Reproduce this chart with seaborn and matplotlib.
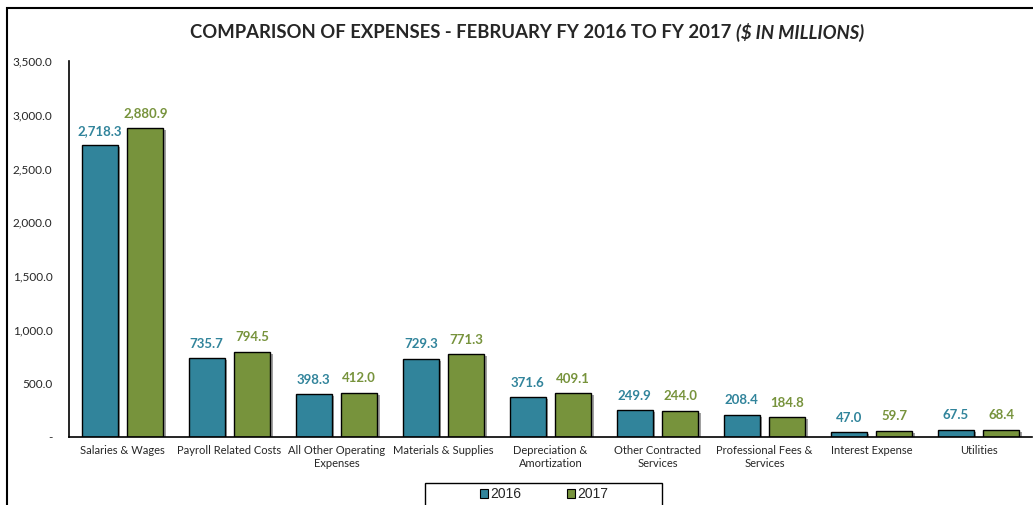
import pandas as pd
import matplotlib.pyplot as plt
import matplotlib.patheffects as pe
from matplotlib.patches import Rectangle
import seaborn as sns

# chart data
categories = ["Salaries & Wages", "Payroll Related Costs", "All Other Operating\nExpenses",
              "Materials & Supplies", "Depreciation &\nAmortization", "Other Contracted\nServices",
              "Professional Fees &\nServices", "Interest Expense", "Utilities"]
fy2016 = [2718.3, 735.7, 398.3, 729.3, 371.6, 249.9, 208.4, 47.0, 67.5]
fy2017 = [2880.9, 794.5, 412.0, 771.3, 409.1, 244.0, 184.8, 59.7, 68.4]
years = ["2016", "2017"]
colors = ["#31849B", "#77933C"]

df = pd.DataFrame({
    "category": categories * 2,
    "year": [years[0]] * len(categories) + [years[1]] * len(categories),
    "value": fy2016 + fy2017,
})

sns.set_style("white")
plt.rcParams['font.family'] = ['Lato', 'DejaVu Sans']

fig = plt.figure(figsize=(10.33, 5.05), dpi=100)
ax = fig.add_axes([69 / 1033, 1 - 437 / 505, 963 / 1033, 376 / 505])

sns.barplot(data=df, x="category", y="value", hue="year", palette=colors, saturation=1,
            width=0.85, gap=0.2, edgecolor="black", linewidth=1.0,
            order=categories, hue_order=years, ax=ax, legend=False)

for bar_group, col in zip(ax.containers, colors):
    for bar in bar_group:
        bar.set_path_effects([pe.SimplePatchShadow(offset=(1.5, -1.5), shadow_rgbFace="#888888", alpha=0.8),
                              pe.Normal()])
    ax.bar_label(bar_group, labels=[f"{v.get_height():,.1f}" for v in bar_group],
                 padding=6, color=col, fontsize=9.5, fontweight="bold")

ax.set_ylim(0, 3500)
ax.set_xlim(-0.5, 8.5)
ticks = [0, 500, 1000, 1500, 2000, 2500, 3000, 3500]
ax.set_yticks(ticks)
ax.set_yticklabels(["-"] + [f"{t:,.1f}" for t in ticks[1:]], fontsize=8.5)
ax.tick_params(axis="x", labelsize=8, length=0, pad=6)
ax.tick_params(axis="y", length=0, pad=12)
ax.set_xlabel("")
ax.set_ylabel("")
for s in ["top", "right"]:
    ax.spines[s].set_visible(False)
for s in ["left", "bottom"]:
    ax.spines[s].set_color("black")
    ax.spines[s].set_linewidth(1.2)

# title: bold part + bold italic part, centred together
ty = 1 - 32 / 505
t1 = fig.text(0, ty, "COMPARISON OF EXPENSES - FEBRUARY FY 2016 TO FY 2017 ",
              ha="left", va="center", fontsize=13.3, fontweight="bold")
t2 = fig.text(0, ty, "($ IN MILLIONS)", ha="left", va="center", fontsize=13.3,
              fontweight="bold", fontstyle="italic")
fig.canvas.draw()
r = fig.canvas.get_renderer()
w1 = t1.get_window_extent(r).width
w2 = t2.get_window_extent(r).width
x0 = (fig.bbox.width * (527 / 1033)) - (w1 + w2) / 2
t1.set_x(x0 / fig.bbox.width)
t2.set_x((x0 + w1) / fig.bbox.width)

# legend at bottom, with its own wider frame
handles = [Rectangle((0, 0), 1, 1, facecolor=c, edgecolor="black", linewidth=0.8) for c in colors]
leg = fig.legend(handles, years, loc="center", bbox_to_anchor=(544 / 1033, 1 - 494 / 505),
                 ncol=2, frameon=False,
                 handlelength=0.6, handleheight=0.6, handletextpad=0.15, columnspacing=3.3,
                 borderpad=0.3, borderaxespad=0,
                 prop={"family": "Liberation Sans", "size": 10})
fig.patches.append(Rectangle((425 / 1033, -0.05), 237 / 1033, 0.05 + 1 - 483 / 505,
                             transform=fig.transFigure, fill=False, edgecolor="black",
                             linewidth=1.0))

# outer chart border
fig.patches.append(Rectangle((7 / 1033, -0.1), 1.2, 1.1 - 8 / 505, transform=fig.transFigure,
                             fill=False, edgecolor="black", linewidth=1.5, zorder=0))

fig.savefig("out.png", dpi=100)
